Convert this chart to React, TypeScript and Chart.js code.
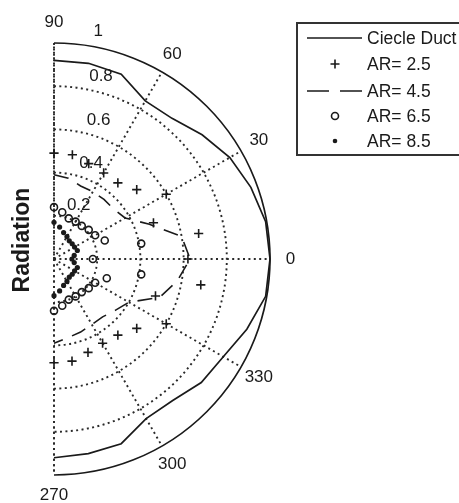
import React, { useEffect, useRef } from 'react';
import { Chart, registerables } from 'chart.js';
Chart.register(...registerables);

// Angles (degrees) at which every series was sampled
const angles = [90, 80, 70, 60, 50, 40, 30, 20, 10, 0, -10, -20, -30, -40, -50, -60, -70, -80, -90];
// Radiation values per series
const circleDuct = [0.92, 0.92, 0.91, 0.845, 0.85, 0.895, 0.94, 0.97, 0.995, 1.0, 0.995, 0.95, 0.905, 0.89, 0.855, 0.853, 0.91, 0.915, 0.92];
const ar25 = [0.49, 0.49, 0.47, 0.46, 0.46, 0.5, 0.6, 0.49, 0.68, 0.62, 0.69, 0.5, 0.6, 0.5, 0.46, 0.45, 0.46, 0.48, 0.48];
const ar45 = [0.39, 0.38, 0.36, 0.36, 0.36, 0.36, 0.38, 0.47, 0.6, 0.63, 0.58, 0.52, 0.4, 0.37, 0.35, 0.35, 0.36, 0.37, 0.39];
const ar65 = [0.24, 0.22, 0.2, 0.2, 0.2, 0.21, 0.22, 0.25, 0.41, 0.18, 0.41, 0.26, 0.22, 0.21, 0.2, 0.2, 0.2, 0.22, 0.24];
const ar85 = [0.17, 0.15, 0.13, 0.12, 0.11, 0.11, 0.11, 0.115, 0.095, 0.083, 0.095, 0.115, 0.11, 0.11, 0.11, 0.12, 0.13, 0.15, 0.17];

const seriesLabels = ['Ciecle Duct', 'AR= 2.5', 'AR= 4.5', 'AR= 6.5', 'AR= 8.5'];
const radialTicks = [0.2, 0.4, 0.6, 0.8, 1];
const radialTickLabels = ['0.2', '0.4', '0.6', '0.8', '1'];
const angleTicks = [90, 60, 30, 0, -30, -60, -90];
const angleTickLabels = ['90', '60', '30', '0', '330', '300', '270'];
const axisTitle = 'Radiation';

const FONT = '"Liberation Sans", Arial, Helvetica, sans-serif';
const INK = '#1a1a1a';

function toXY(r: number[]) {
  return r.map((v, i) => {
    const a = (angles[i] * Math.PI) / 180;
    return { x: v * Math.cos(a), y: v * Math.sin(a) };
  });
}

const polarPlugin = {
  id: 'polarGrid',
  beforeDatasetsDraw(chart: any) {
    const { ctx } = chart;
    const xs = chart.scales.x;
    const ys = chart.scales.y;
    const cx = xs.getPixelForValue(0);
    const cy = ys.getPixelForValue(0);
    const R = xs.getPixelForValue(1) - cx;
    ctx.save();
    ctx.strokeStyle = '#2a2a2a';
    ctx.lineWidth = 1.9;
    ctx.setLineDash([2, 3.4]);
    // dotted circles
    radialTicks.forEach((v) => {
      if (v >= 1) return;
      ctx.beginPath();
      ctx.arc(cx, cy, v * R, -Math.PI / 2, Math.PI / 2);
      ctx.stroke();
    });
    // dotted spokes
    angleTicks.forEach((a) => {
      const t = (a * Math.PI) / 180;
      ctx.beginPath();
      ctx.moveTo(cx, cy);
      ctx.lineTo(cx + R * Math.cos(t), cy - R * Math.sin(t));
      ctx.stroke();
    });
    // vertical line
    ctx.beginPath();
    ctx.moveTo(cx, cy - R);
    ctx.lineTo(cx, cy + R);
    ctx.stroke();
    // outer solid circle
    ctx.setLineDash([]);
    ctx.lineWidth = 1.7;
    ctx.strokeStyle = INK;
    ctx.beginPath();
    ctx.arc(cx, cy, R, -Math.PI / 2, Math.PI / 2);
    ctx.stroke();
    ctx.restore();
  },
  afterDraw(chart: any) {
    const { ctx } = chart;
    const xs = chart.scales.x;
    const ys = chart.scales.y;
    const cx = xs.getPixelForValue(0);
    const cy = ys.getPixelForValue(0);
    const R = xs.getPixelForValue(1) - cx;
    ctx.save();
    ctx.fillStyle = INK;
    ctx.textAlign = 'center';
    ctx.textBaseline = 'middle';
    ctx.font = `17px ${FONT}`;
    // angle labels
    angleTicks.forEach((a, i) => {
      const t = (a * Math.PI) / 180;
      const rr = 1.095 * R;
      ctx.fillText(angleTickLabels[i], cx + rr * Math.cos(t), cy - rr * Math.sin(t));
    });
    // radial labels
    radialTicks.forEach((v, i) => {
      const t = ((62 + 17 * v) * Math.PI) / 180;
      const rr = (v + 0.075) * R;
      ctx.fillText(radialTickLabels[i], cx + rr * Math.cos(t), cy - rr * Math.sin(t));
    });
    // axis title
    ctx.save();
    ctx.translate(23, 240);
    ctx.rotate(-Math.PI / 2);
    ctx.font = `bold 23px ${FONT}`;
    ctx.fillText(axisTitle, 0, 0);
    ctx.restore();

    // legend
    const bx = 297, by = 23, bh = 132;
    ctx.fillStyle = '#fff';
    ctx.fillRect(bx, by, 200, bh);
    ctx.strokeStyle = '#333';
    ctx.lineWidth = 2;
    ctx.strokeRect(bx, by, 200, bh);
    const rows = [38, 64, 91, 116, 141];
    const sx0 = 307, sx1 = 362, sxm = 335, tx = 367;
    ctx.textAlign = 'left';
    ctx.font = `17.5px ${FONT}`;
    chart.data.datasets.forEach((ds: any, i: number) => {
      const y = rows[i];
      ctx.strokeStyle = INK;
      ctx.fillStyle = INK;
      ctx.lineWidth = 1.7;
      ctx.setLineDash([]);
      if (i === 0) {
        ctx.beginPath();
        ctx.moveTo(sx0, y);
        ctx.lineTo(sx1, y);
        ctx.stroke();
      } else if (i === 1) {
        ctx.lineWidth = 1.6;
        ctx.beginPath();
        ctx.moveTo(sxm - 4.5, y);
        ctx.lineTo(sxm + 4.5, y);
        ctx.moveTo(sxm, y - 4.5);
        ctx.lineTo(sxm, y + 4.5);
        ctx.stroke();
      } else if (i === 2) {
        ctx.beginPath();
        ctx.moveTo(sx0, y);
        ctx.lineTo(sx0 + 22, y);
        ctx.moveTo(sx1 - 22, y);
        ctx.lineTo(sx1, y);
        ctx.stroke();
      } else if (i === 3) {
        ctx.lineWidth = 1.6;
        ctx.beginPath();
        ctx.arc(sxm, y, 3.5, 0, Math.PI * 2);
        ctx.stroke();
      } else {
        ctx.beginPath();
        ctx.arc(sxm, y, 2.3, 0, Math.PI * 2);
        ctx.fill();
      }
      ctx.fillStyle = INK;
      ctx.fillText(ds.label, tx, y + 1);
    });
    ctx.restore();
  },
};

export default function App() {
  const ref = useRef<HTMLCanvasElement | null>(null);
  useEffect(() => {
    if (!ref.current) return;
    const chart = new Chart(ref.current, {
      type: 'scatter',
      data: {
        datasets: [
          {
            label: seriesLabels[0],
            data: toXY(circleDuct),
            showLine: true,
            borderColor: INK,
            borderWidth: 1.7,
            pointRadius: 0,
            fill: false,
            tension: 0,
          },
          {
            label: seriesLabels[1],
            data: toXY(ar25),
            showLine: false,
            pointStyle: 'cross',
            pointRadius: 4.6,
            borderColor: INK,
            borderWidth: 1.6,
          },
          {
            label: seriesLabels[2],
            data: toXY(ar45),
            showLine: true,
            borderColor: INK,
            borderWidth: 1.6,
            borderDash: [15, 10],
            pointRadius: 0,
            fill: false,
            tension: 0,
          },
          {
            label: seriesLabels[3],
            data: toXY(ar65),
            showLine: false,
            pointStyle: 'circle',
            pointRadius: 3.5,
            borderColor: INK,
            borderWidth: 1.6,
            backgroundColor: 'rgba(0,0,0,0)',
          },
          {
            label: seriesLabels[4],
            data: toXY(ar85),
            showLine: false,
            pointStyle: 'circle',
            pointRadius: 2.6,
            borderWidth: 0,
            borderColor: INK,
            backgroundColor: INK,
          },
        ],
      },
      options: {
        animation: false,
        responsive: false,
        events: [],
        layout: { padding: { left: 54, right: 189, top: 43, bottom: 28 } },
        scales: {
          x: { type: 'linear', min: 0, max: 1, display: false },
          y: { type: 'linear', min: -1, max: 1, display: false },
        },
        plugins: { legend: { display: false }, tooltip: { enabled: false } },
        datasets: { scatter: { clip: false } as any },
      } as any,
      plugins: [polarPlugin],
    });
    return () => chart.destroy();
  }, []);
  return (
    <div style={{ position: 'fixed', left: 0, top: 0, width: 459, height: 503, background: '#fff' }}>
      <canvas ref={ref} width={459} height={503} style={{ width: 459, height: 503, display: 'block' }} />
    </div>
  );
}
